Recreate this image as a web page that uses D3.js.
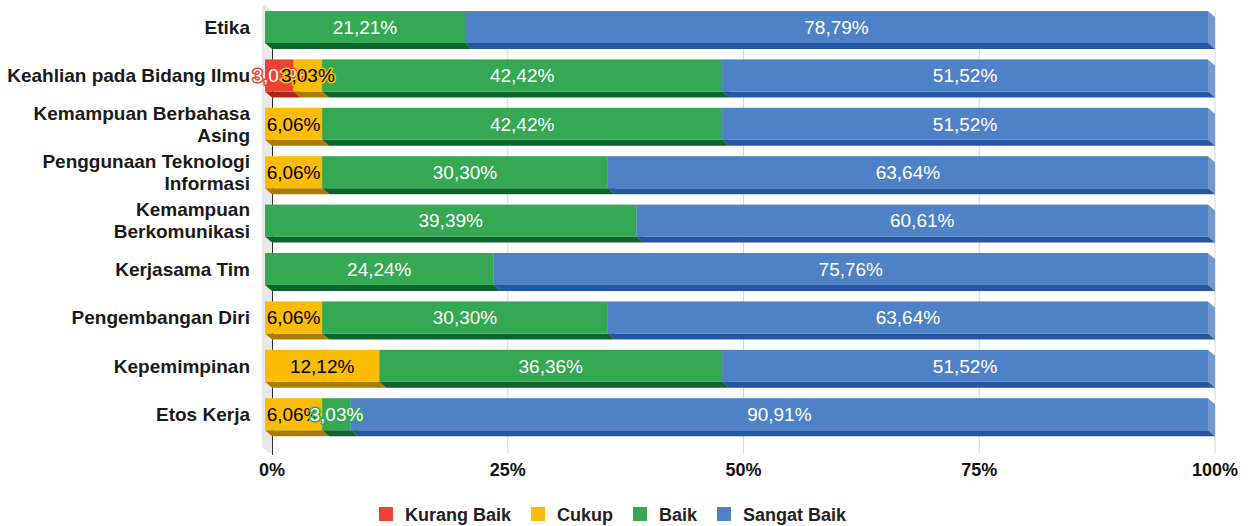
<!DOCTYPE html>
<html>
<head>
<meta charset="utf-8">
<script src="https://cdn.jsdelivr.net/npm/d3@7"></script>
<style>
  body { margin: 0; background: #fff; }
  text { font-family: "Liberation Sans", Arial, sans-serif; }
</style>
</head>
<body>
<div id="chart"></div>
<script>
// categories (top to bottom)
var categories = [
  ["Etika"],
  ["Keahlian pada Bidang Ilmu"],
  ["Kemampuan Berbahasa", "Asing"],
  ["Penggunaan Teknologi", "Informasi"],
  ["Kemampuan", "Berkomunikasi"],
  ["Kerjasama Tim"],
  ["Pengembangan Diri"],
  ["Kepemimpinan"],
  ["Etos Kerja"]
];
var seriesNames = ["Kurang Baik", "Cukup", "Baik", "Sangat Baik"];
var kurangBaik = [0, 3.03, 0, 0, 0, 0, 0, 0, 0];
var cukup      = [0, 3.03, 6.06, 6.06, 0, 0, 6.06, 12.12, 6.06];
var baik       = [21.21, 42.42, 42.42, 30.30, 39.39, 24.24, 30.30, 36.36, 3.03];
var sangatBaik = [78.79, 51.52, 51.52, 63.64, 60.61, 75.76, 63.64, 51.52, 90.91];
var tickValues = [0, 25, 50, 75, 100];

var face   = ["#ea4335", "#fbbc04", "#34a853", "#4f81c6"];
var bottom = ["#a52714", "#a97c06", "#0d652d", "#2456a1"];
var side   = ["#f07b72", "#fdd663", "#71c287", "#7399cf"];
var labelFill = ["#fff", "#000", "#fff", "#fff"];

var width = 1252, height = 526;
var dx = 7, dy = 6;

var svg = d3.select("#chart").append("svg")
  .attr("width", width)
  .attr("height", height);

var x = d3.scaleLinear().domain([0, 100]).range([265, 1208]);
var y = d3.scaleBand()
  .domain(d3.range(categories.length))
  .range([11, 430.2])
  .paddingInner(0.339)
  .paddingOuter(0);

var plotTop = 11, plotBottom = 453;

// gridlines on the back plane
svg.append("g").selectAll("line")
  .data(tickValues.slice(1))
  .enter().append("line")
  .attr("x1", d => x(d) + dx)
  .attr("x2", d => x(d) + dx)
  .attr("y1", plotTop)
  .attr("y2", plotBottom)
  .style("stroke", "#d6d6d6")
  .style("stroke-width", 1);

// left wall
svg.append("path")
  .attr("d", "M" + (x(0) - 3) + "," + (plotTop - 6) +
    " L" + x(0) + "," + (plotTop - 6) +
    " L" + (x(0) + dx) + "," + plotTop +
    " L" + (x(0) + dx) + "," + plotBottom +
    " L" + (x(0) + 4) + "," + plotBottom +
    " L" + (x(0) - 3) + "," + (plotBottom - dy) + " Z")
  .style("fill", "#e8e8e8");

svg.append("line")
  .attr("x1", x(0) + dx + 0.5).attr("x2", x(0) + dx + 0.5)
  .attr("y1", plotTop).attr("y2", plotBottom + 2)
  .style("stroke", "#333")
  .style("stroke-width", 1);

// stack the series
var rows = categories.map((c, i) => ({
  i: i,
  values: [kurangBaik[i], cukup[i], baik[i], sangatBaik[i]]
}));

var segments = [];
rows.forEach(r => {
  var acc = 0;
  r.values.forEach((v, s) => {
    segments.push({ row: r.i, s: s, v: v, x0: acc, x1: acc + v });
    acc += v;
  });
});
segments = segments.filter(d => d.v > 0);

var bars = svg.append("g");
var bh = y.bandwidth();

bars.selectAll("g.seg")
  .data(segments)
  .enter().append("g")
  .attr("class", "seg")
  .each(function(d) {
    var g = d3.select(this);
    var a = x(d.x0), b = x(d.x1), t = y(d.row), btm = t + bh;
    // side face
    g.append("path")
      .attr("d", "M" + b + "," + t + " L" + (b + dx) + "," + (t + dy) +
        " L" + (b + dx) + "," + (btm + dy) + " L" + b + "," + btm + " Z")
      .style("fill", side[d.s]);
    // bottom face
    g.append("path")
      .attr("d", "M" + a + "," + btm + " L" + b + "," + btm +
        " L" + (b + dx) + "," + (btm + dy) + " L" + (a + dx) + "," + (btm + dy) + " Z")
      .style("fill", bottom[d.s]);
    // front
    g.append("rect")
      .attr("x", a).attr("y", t)
      .attr("width", b - a).attr("height", bh)
      .style("fill", face[d.s]);
  });

// value labels
var fmt = v => v.toFixed(2).replace(".", ",") + "%";
var labels = svg.append("g");
segments.forEach(d => {
  var cx = (x(d.x0) + x(d.x1)) / 2, cy = y(d.row) + bh / 2;
  labels.append("text")
    .attr("x", cx).attr("y", cy)
    .attr("dy", "0.36em")
    .attr("text-anchor", "middle")
    .style("font-size", "19px")
    .style("fill", labelFill[d.s])
    .style("stroke", face[d.s])
    .style("stroke-width", 3)
    .style("stroke-linejoin", "round")
    .style("paint-order", "stroke")
    .text(fmt(d.v));
});

// category labels
var cat = svg.append("g");
categories.forEach((lines, i) => {
  var cy = y(i) + bh / 2;
  var lh = 22;
  var t = cat.append("text")
    .attr("text-anchor", "end")
    .style("font-size", "19px")
    .style("font-weight", "bold")
    .style("fill", "#1a1a1a");
  lines.forEach((l, k) => {
    t.append("tspan")
      .attr("x", 250)
      .attr("y", cy + (k - (lines.length - 1) / 2) * lh)
      .attr("dy", "0.36em")
      .text(l);
  });
});

// x axis labels
svg.append("g").selectAll("text")
  .data(tickValues)
  .enter().append("text")
  .attr("x", d => x(d) + dx)
  .attr("y", 476)
  .attr("text-anchor", "middle")
  .style("font-size", "18px")
  .style("font-weight", "bold")
  .style("fill", "#111")
  .text(d => d + "%");

// legend
var legend = svg.append("g");
var lx = 0;
seriesNames.forEach((n, s) => {
  var g = legend.append("g").attr("transform", "translate(" + lx + ",0)");
  g.append("rect")
    .attr("x", 0).attr("y", 507)
    .attr("width", 14).attr("height", 14)
    .style("fill", face[s]);
  var t = g.append("text")
    .attr("x", 26).attr("y", 521)
    .style("font-size", "18px")
    .style("font-weight", "bold")
    .style("fill", "#222")
    .text(n);
  lx += 26 + t.node().getComputedTextLength() + 20;
});
var legendW = lx - 20;
legend.attr("transform", "translate(" + (612.5 - legendW / 2) + ",0)");
</script>
</body>
</html>
